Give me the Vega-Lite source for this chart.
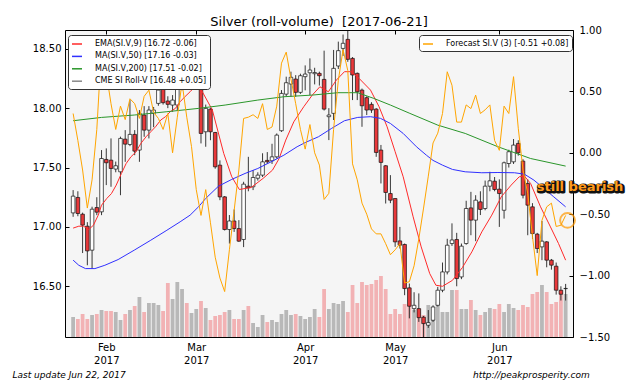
{
  "$schema": "https://vega.github.io/schema/vega-lite/v6.json",
  "width": 508,
  "height": 307,
  "autosize": {"type": "none"},
  "padding": {"left": 65, "top": 30, "right": 67, "bottom": 47},
  "background": "white",
  "title": {"text": "Silver (roll-volume) \u00a0[2017-06-21]", "fontSize": 13, "font": "DejaVu Sans", "fontWeight": "normal", "offset": -4, "color": "black"},
  "config": {
    "view": {"fill": "#f5f5f5", "stroke": "black", "strokeWidth": 1},
    "axis": {"grid": false, "domain": false, "tickColor": "black", "tickSize": 4, "offset": -4, "labelFont": "DejaVu Sans", "labelFontSize": 10, "labelColor": "black"},
    "legend": {"labelFont": "DejaVu Sans", "labelFontSize": 8, "labelColor": "black", "symbolType": "stroke", "symbolStrokeWidth": 1.5, "symbolSize": 100, "fillColor": "white", "strokeColor": "#333", "padding": 3, "cornerRadius": 3, "rowPadding": 2.4, "labelOffset": 12, "orient": "none", "direction": "vertical"}
  },
  "datasets": {
    "candles": [
      {"i":0,"o":17.118,"h":17.31,"l":17.085,"c":17.259,"v":20},
      {"i":1,"o":17.248,"h":17.30,"l":17.09,"c":17.113,"v":18},
      {"i":2,"o":17.107,"h":17.12,"l":16.78,"c":17.015,"v":23},
      {"i":3,"o":17.006,"h":17.04,"l":16.677,"c":16.798,"v":18},
      {"i":4,"o":16.804,"h":17.17,"l":16.649,"c":17.149,"v":22},
      {"i":5,"o":17.163,"h":17.25,"l":17.099,"c":17.124,"v":23},
      {"i":6,"o":17.127,"h":17.647,"l":17.099,"c":17.576,"v":27},
      {"i":7,"o":17.568,"h":17.661,"l":17.352,"c":17.54,"v":26},
      {"i":8,"o":17.562,"h":17.745,"l":17.338,"c":17.492,"v":26},
      {"i":9,"o":17.487,"h":17.55,"l":17.46,"c":17.515,"v":25},
      {"i":10,"o":17.464,"h":17.76,"l":17.267,"c":17.745,"v":17},
      {"i":11,"o":17.739,"h":17.815,"l":17.548,"c":17.697,"v":23},
      {"i":12,"o":17.694,"h":18.068,"l":17.68,"c":17.779,"v":27},
      {"i":13,"o":17.779,"h":17.815,"l":17.604,"c":17.638,"v":31},
      {"i":14,"o":17.647,"h":17.984,"l":17.548,"c":17.956,"v":40},
      {"i":15,"o":17.942,"h":18.017,"l":17.759,"c":17.815,"v":25},
      {"i":16,"o":17.815,"h":18.017,"l":17.745,"c":17.984,"v":34},
      {"i":17,"o":17.956,"h":18.01,"l":17.84,"c":17.984,"v":34},
      {"i":18,"o":18.04,"h":18.2,"l":18.02,"c":18.152,"v":32},
      {"i":19,"o":18.166,"h":18.18,"l":18.03,"c":18.046,"v":26},
      {"i":20,"o":18.06,"h":18.1,"l":18.0,"c":18.032,"v":54},
      {"i":21,"o":18.026,"h":18.11,"l":17.97,"c":18.068,"v":38},
      {"i":22,"o":18.026,"h":18.265,"l":17.98,"c":18.208,"v":55},
      {"i":23,"o":18.2,"h":18.33,"l":18.15,"c":18.3,"v":48},
      {"i":24,"o":18.3,"h":18.38,"l":18.2,"c":18.25,"v":34},
      {"i":25,"o":18.25,"h":18.4,"l":18.22,"c":18.35,"v":24},
      {"i":26,"o":18.22,"h":18.35,"l":18.18,"c":18.3,"v":28},
      {"i":27,"o":18.195,"h":18.22,"l":17.703,"c":17.787,"v":36},
      {"i":28,"o":17.801,"h":18.03,"l":17.675,"c":17.998,"v":29},
      {"i":29,"o":17.992,"h":18.0,"l":17.73,"c":17.801,"v":17},
      {"i":30,"o":17.795,"h":17.8,"l":17.49,"c":17.506,"v":21},
      {"i":31,"o":17.52,"h":17.56,"l":17.225,"c":17.253,"v":22},
      {"i":32,"o":17.253,"h":17.26,"l":16.97,"c":16.978,"v":25},
      {"i":33,"o":16.978,"h":17.1,"l":16.86,"c":17.05,"v":27},
      {"i":34,"o":17.05,"h":17.147,"l":16.958,"c":16.986,"v":18},
      {"i":35,"o":16.986,"h":17.057,"l":16.874,"c":16.88,"v":18},
      {"i":36,"o":16.894,"h":17.38,"l":16.83,"c":17.36,"v":27},
      {"i":37,"o":17.343,"h":17.59,"l":17.30,"c":17.33,"v":31},
      {"i":38,"o":17.338,"h":17.478,"l":17.31,"c":17.416,"v":14},
      {"i":39,"o":17.41,"h":17.46,"l":17.39,"c":17.436,"v":10},
      {"i":40,"o":17.436,"h":17.62,"l":17.42,"c":17.548,"v":22},
      {"i":41,"o":17.56,"h":17.63,"l":17.53,"c":17.548,"v":15},
      {"i":42,"o":17.557,"h":17.70,"l":17.53,"c":17.59,"v":17},
      {"i":43,"o":17.59,"h":17.787,"l":17.576,"c":17.773,"v":15},
      {"i":44,"o":17.81,"h":18.152,"l":17.8,"c":18.124,"v":23},
      {"i":45,"o":18.118,"h":18.265,"l":18.1,"c":18.214,"v":27},
      {"i":46,"o":18.203,"h":18.307,"l":18.096,"c":18.26,"v":22},
      {"i":47,"o":18.245,"h":18.278,"l":18.096,"c":18.133,"v":23},
      {"i":48,"o":18.133,"h":18.29,"l":18.12,"c":18.273,"v":21},
      {"i":49,"o":18.265,"h":18.36,"l":18.15,"c":18.287,"v":18},
      {"i":50,"o":18.298,"h":18.419,"l":18.11,"c":18.321,"v":20},
      {"i":51,"o":18.29,"h":18.34,"l":18.2,"c":18.30,"v":28},
      {"i":52,"o":18.293,"h":18.307,"l":18.19,"c":18.273,"v":20},
      {"i":53,"o":18.242,"h":18.484,"l":17.98,"c":17.992,"v":48},
      {"i":54,"o":17.928,"h":18.0,"l":17.731,"c":17.942,"v":28},
      {"i":55,"o":17.956,"h":18.49,"l":17.9,"c":18.335,"v":34},
      {"i":56,"o":18.355,"h":18.56,"l":18.33,"c":18.484,"v":33},
      {"i":57,"o":18.503,"h":18.62,"l":18.44,"c":18.546,"v":36},
      {"i":58,"o":18.579,"h":18.65,"l":18.39,"c":18.411,"v":25},
      {"i":59,"o":18.419,"h":18.43,"l":18.068,"c":18.279,"v":52},
      {"i":60,"o":18.293,"h":18.3,"l":18.068,"c":18.138,"v":34},
      {"i":61,"o":18.152,"h":18.165,"l":17.843,"c":18.02,"v":55},
      {"i":62,"o":18.088,"h":18.1,"l":17.942,"c":17.984,"v":52},
      {"i":63,"o":18.032,"h":18.05,"l":17.96,"c":17.984,"v":53},
      {"i":64,"o":17.992,"h":18.0,"l":17.59,"c":17.627,"v":57},
      {"i":65,"o":17.647,"h":17.69,"l":17.366,"c":17.543,"v":61},
      {"i":66,"o":17.515,"h":17.52,"l":17.197,"c":17.29,"v":48},
      {"i":67,"o":17.281,"h":17.436,"l":17.2,"c":17.225,"v":23},
      {"i":68,"o":17.239,"h":17.24,"l":16.832,"c":16.874,"v":28},
      {"i":69,"o":16.882,"h":17.0,"l":16.818,"c":16.846,"v":23},
      {"i":70,"o":16.852,"h":16.86,"l":16.425,"c":16.481,"v":33},
      {"i":71,"o":16.487,"h":16.523,"l":16.23,"c":16.332,"v":32},
      {"i":72,"o":16.312,"h":16.45,"l":16.28,"c":16.34,"v":27},
      {"i":73,"o":16.312,"h":16.44,"l":16.2,"c":16.236,"v":25},
      {"i":74,"o":16.24,"h":16.25,"l":16.0,"c":16.186,"v":22},
      {"i":75,"o":16.172,"h":16.3,"l":16.15,"c":16.194,"v":32},
      {"i":76,"o":16.214,"h":16.34,"l":16.2,"c":16.326,"v":30},
      {"i":77,"o":16.34,"h":16.495,"l":16.33,"c":16.467,"v":35},
      {"i":78,"o":16.467,"h":16.7,"l":16.45,"c":16.621,"v":25},
      {"i":79,"o":16.621,"h":16.9,"l":16.6,"c":16.846,"v":25},
      {"i":80,"o":16.86,"h":17.03,"l":16.84,"c":16.89,"v":47},
      {"i":81,"o":16.894,"h":16.95,"l":16.5,"c":16.565,"v":47},
      {"i":82,"o":16.579,"h":16.86,"l":16.56,"c":16.838,"v":28},
      {"i":83,"o":16.86,"h":17.22,"l":16.85,"c":17.155,"v":28},
      {"i":84,"o":17.16,"h":17.295,"l":16.93,"c":17.057,"v":37},
      {"i":85,"o":17.057,"h":17.267,"l":16.88,"c":17.225,"v":27},
      {"i":86,"o":17.211,"h":17.3,"l":17.1,"c":17.147,"v":22},
      {"i":87,"o":17.155,"h":17.39,"l":17.14,"c":17.343,"v":25},
      {"i":88,"o":17.343,"h":17.464,"l":17.3,"c":17.388,"v":29},
      {"i":89,"o":17.385,"h":17.42,"l":17.3,"c":17.315,"v":28},
      {"i":90,"o":17.318,"h":17.4,"l":17.0,"c":17.281,"v":33},
      {"i":91,"o":17.14,"h":17.55,"l":17.07,"c":17.54,"v":25},
      {"i":92,"o":17.534,"h":17.65,"l":17.5,"c":17.633,"v":33},
      {"i":93,"o":17.548,"h":17.74,"l":17.53,"c":17.689,"v":29},
      {"i":94,"o":17.703,"h":17.73,"l":17.6,"c":17.624,"v":27},
      {"i":95,"o":17.554,"h":17.57,"l":17.24,"c":17.267,"v":32},
      {"i":96,"o":17.366,"h":17.4,"l":16.93,"c":17.183,"v":30},
      {"i":97,"o":17.169,"h":17.2,"l":16.9,"c":16.944,"v":43},
      {"i":98,"o":16.939,"h":16.95,"l":16.78,"c":16.818,"v":45},
      {"i":99,"o":16.832,"h":17.05,"l":16.72,"c":16.88,"v":52},
      {"i":100,"o":16.874,"h":16.88,"l":16.66,"c":16.72,"v":45},
      {"i":101,"o":16.72,"h":16.73,"l":16.64,"c":16.678,"v":33},
      {"i":102,"o":16.669,"h":16.7,"l":16.43,"c":16.467,"v":35},
      {"i":103,"o":16.467,"h":16.5,"l":16.38,"c":16.433,"v":45},
      {"i":104,"o":16.48,"h":16.52,"l":16.38,"c":16.482,"v":43}
    ],
    "lines": [
      {"s":"ema","i":0,"v":16.99},{"s":"ema","i":1.2,"v":17.006},{"s":"ema","i":2.2,"v":17.006},{"s":"ema","i":3.3,"v":16.978},{"s":"ema","i":4.3,"v":17.015},{"s":"ema","i":5.3,"v":17.099},{"s":"ema","i":6,"v":17.183},{"s":"ema","i":7.1,"v":17.239},{"s":"ema","i":8.1,"v":17.281},{"s":"ema","i":9.1,"v":17.352},{"s":"ema","i":10.2,"v":17.45},{"s":"ema","i":11.2,"v":17.534},{"s":"ema","i":12.2,"v":17.59},{"s":"ema","i":13.3,"v":17.633},{"s":"ema","i":14.3,"v":17.703},{"s":"ema","i":15.4,"v":17.759},{"s":"ema","i":16.4,"v":17.801},{"s":"ema","i":17.4,"v":17.843},{"s":"ema","i":18.5,"v":17.9},{"s":"ema","i":19.5,"v":17.928},{"s":"ema","i":20.5,"v":17.97},{"s":"ema","i":21.6,"v":17.998},{"s":"ema","i":22.6,"v":18.054},{"s":"ema","i":23.6,"v":18.096},{"s":"ema","i":24.7,"v":18.138},{"s":"ema","i":25.7,"v":18.18},{"s":"ema","i":26.9,"v":18.166},{"s":"ema","i":29.4,"v":17.984},{"s":"ema","i":31.8,"v":17.619},{"s":"ema","i":33.5,"v":17.422},{"s":"ema","i":35.1,"v":17.315},{"s":"ema","i":37.6,"v":17.332},{"s":"ema","i":40.1,"v":17.408},{"s":"ema","i":42.1,"v":17.478},{"s":"ema","i":43.5,"v":17.576},{"s":"ema","i":44.9,"v":17.731},{"s":"ema","i":46.6,"v":17.885},{"s":"ema","i":48.7,"v":18.012},{"s":"ema","i":50.5,"v":18.11},{"s":"ema","i":52.1,"v":18.18},{"s":"ema","i":53.9,"v":18.138},{"s":"ema","i":55.6,"v":18.237},{"s":"ema","i":57.3,"v":18.307},{"s":"ema","i":58.7,"v":18.307},{"s":"ema","i":60.4,"v":18.25},{"s":"ema","i":62.8,"v":18.152},{"s":"ema","i":64.6,"v":18.012},{"s":"ema","i":66.3,"v":17.843},{"s":"ema","i":68,"v":17.633},{"s":"ema","i":69.7,"v":17.422},{"s":"ema","i":71.8,"v":17.085},{"s":"ema","i":73.5,"v":16.832},{"s":"ema","i":75.3,"v":16.607},{"s":"ema","i":76.6,"v":16.509},{"s":"ema","i":78,"v":16.5},{"s":"ema","i":80.1,"v":16.55},{"s":"ema","i":82.2,"v":16.658},{"s":"ema","i":84.2,"v":16.79},{"s":"ema","i":86.3,"v":16.958},{"s":"ema","i":88.4,"v":17.099},{"s":"ema","i":90.4,"v":17.253},{"s":"ema","i":92.5,"v":17.352},{"s":"ema","i":94.2,"v":17.422},{"s":"ema","i":95.3,"v":17.428},{"s":"ema","i":96.6,"v":17.366},{"s":"ema","i":98.7,"v":17.169},{"s":"ema","i":100.8,"v":17.0},{"s":"ema","i":102.5,"v":16.86},{"s":"ema","i":104,"v":16.72},
      {"s":"ma50","i":0,"v":16.72},{"s":"ma50","i":1.2,"v":16.677},{"s":"ma50","i":2.6,"v":16.649},{"s":"ma50","i":4.6,"v":16.649},{"s":"ma50","i":6.7,"v":16.677},{"s":"ma50","i":9.5,"v":16.725},{"s":"ma50","i":12.9,"v":16.804},{"s":"ma50","i":16.4,"v":16.888},{"s":"ma50","i":19.8,"v":16.972},{"s":"ma50","i":22.6,"v":17.043},{"s":"ma50","i":24.7,"v":17.099},{"s":"ma50","i":26.5,"v":17.17},{"s":"ma50","i":28,"v":17.24},{"s":"ma50","i":30.7,"v":17.343},{"s":"ma50","i":33.5,"v":17.4},{"s":"ma50","i":36.3,"v":17.45},{"s":"ma50","i":39,"v":17.492},{"s":"ma50","i":41.8,"v":17.548},{"s":"ma50","i":44.5,"v":17.604},{"s":"ma50","i":47.3,"v":17.675},{"s":"ma50","i":49,"v":17.71},{"s":"ma50","i":51.8,"v":17.759},{"s":"ma50","i":54.6,"v":17.83},{"s":"ma50","i":57.3,"v":17.894},{"s":"ma50","i":60.1,"v":17.922},{"s":"ma50","i":62.8,"v":17.928},{"s":"ma50","i":64.9,"v":17.914},{"s":"ma50","i":67,"v":17.871},{"s":"ma50","i":69.7,"v":17.787},{"s":"ma50","i":72.5,"v":17.675},{"s":"ma50","i":74.6,"v":17.604},{"s":"ma50","i":76,"v":17.56},{"s":"ma50","i":78,"v":17.52},{"s":"ma50","i":80.1,"v":17.484},{"s":"ma50","i":82.8,"v":17.464},{"s":"ma50","i":86.3,"v":17.456},{"s":"ma50","i":89.7,"v":17.458},{"s":"ma50","i":93.2,"v":17.456},{"s":"ma50","i":95.3,"v":17.444},{"s":"ma50","i":97.3,"v":17.394},{"s":"ma50","i":99.4,"v":17.324},{"s":"ma50","i":101.5,"v":17.253},{"s":"ma50","i":104,"v":17.169},
      {"s":"ma200","i":0,"v":17.894},{"s":"ma200","i":6,"v":17.922},{"s":"ma200","i":12.9,"v":17.942},{"s":"ma200","i":19.8,"v":17.97},{"s":"ma200","i":26.5,"v":17.998},{"s":"ma200","i":32.1,"v":18.026},{"s":"ma200","i":39,"v":18.068},{"s":"ma200","i":44.5,"v":18.096},{"s":"ma200","i":50.5,"v":18.11},{"s":"ma200","i":55.9,"v":18.13},{"s":"ma200","i":60.1,"v":18.13},{"s":"ma200","i":63.5,"v":18.082},{"s":"ma200","i":67,"v":18.026},{"s":"ma200","i":71.1,"v":17.956},{"s":"ma200","i":77,"v":17.857},{"s":"ma200","i":82.8,"v":17.787},{"s":"ma200","i":89.7,"v":17.675},{"s":"ma200","i":96.6,"v":17.576},{"s":"ma200","i":104,"v":17.512}
    ],
    "forecast": [
      {"i":0,"r":0.32},{"i":1,"r":0.10},{"i":2,"r":-0.14},{"i":3,"r":-0.45},{"i":4,"r":-0.22},{"i":5,"r":0.19},{"i":6,"r":0.86},{"i":7,"r":0.65},{"i":8,"r":0.40},{"i":9,"r":0.19},{"i":10,"r":0.38},{"i":11,"r":0.27},{"i":12,"r":0.44},{"i":13,"r":0.40},{"i":14,"r":0.28},{"i":15,"r":0.46},{"i":16,"r":0.51},{"i":17,"r":0.33},{"i":18,"r":0.28},{"i":19,"r":0.19},{"i":20,"r":0.32},{"i":21,"r":0.0},{"i":22,"r":0.29},{"i":23,"r":0.57},{"i":24,"r":0.29},{"i":25,"r":0.05},{"i":26,"r":-0.3},{"i":27,"r":-0.51},{"i":28,"r":-0.30},{"i":29,"r":-0.57},{"i":30,"r":-0.85},{"i":31,"r":-1.02},{"i":32,"r":-1.13},{"i":33,"r":-0.79},{"i":34,"r":-0.47},{"i":35,"r":-0.14},{"i":36,"r":0.28},{"i":37,"r":0.29},{"i":38,"r":0.31},{"i":39,"r":0.28},{"i":40,"r":0.40},{"i":41,"r":0.19},{"i":42,"r":0.21},{"i":43,"r":0.38},{"i":44,"r":0.73},{"i":45,"r":0.82},{"i":46,"r":0.6},{"i":47,"r":0.40},{"i":48,"r":0.19},{"i":49,"r":0.03},{"i":50,"r":0.23},{"i":51,"r":0.0},{"i":52,"r":-0.10},{"i":53,"r":-0.38},{"i":54,"r":-0.33},{"i":55,"r":0.19},{"i":56,"r":0.59},{"i":57,"r":0.84},{"i":58,"r":0.67},{"i":59,"r":-0.09},{"i":60,"r":-0.22},{"i":61,"r":-0.41},{"i":62,"r":-0.50},{"i":63,"r":-0.62},{"i":64,"r":-0.66},{"i":65,"r":-0.66},{"i":66,"r":-0.74},{"i":67,"r":-0.83},{"i":68,"r":-0.79},{"i":69,"r":-0.74},{"i":70,"r":-1.06},{"i":71,"r":-1.05},{"i":72,"r":-0.92},{"i":73,"r":-0.7},{"i":74,"r":-0.45},{"i":75,"r":-0.19},{"i":76,"r":0.08},{"i":77,"r":0.16},{"i":78,"r":0.32},{"i":79,"r":0.66},{"i":80,"r":0.55},{"i":81,"r":0.25},{"i":82,"r":0.25},{"i":83,"r":0.39},{"i":84,"r":0.36},{"i":85,"r":0.47},{"i":86,"r":0.32},{"i":87,"r":0.35},{"i":88,"r":0.39},{"i":89,"r":0.10},{"i":90,"r":0.02},{"i":91,"r":0.38},{"i":92,"r":0.32},{"i":93,"r":0.62},{"i":94,"r":0.2},{"i":95,"r":-0.14},{"i":96,"r":-0.33},{"i":97,"r":-0.68},{"i":98,"r":-1.0},{"i":99,"r":-0.55},{"i":100,"r":-0.44},{"i":101,"r":-0.41},{"i":102,"r":-0.60},{"i":103,"r":-0.59},{"i":104,"r":-0.51}
    ]
  },
  "layer": [
    {
      "data": {"name": "candles"},
      "mark": {"type": "bar", "size": 3.8, "clip": true},
      "encoding": {
        "x": {"field": "i", "type": "quantitative", "scale": {"domain": [-0.66, 104.5], "nice": false, "zero": false},
              "axis": {"title": null, "values": [7, 26, 49, 68, 90], "labelExpr": "datum.value==7?['Feb','2017']:datum.value==26?['Mar','2017']:datum.value==49?['Apr','2017']:datum.value==68?['May','2017']:['Jun','2017']", "labelPadding": 5, "labelLineHeight": 13, "labelBaseline": "top"}},
        "y": {"field": "v", "type": "quantitative", "scale": {"domain": [0, 307], "nice": false}, "axis": null},
        "fill": {"condition": {"test": "datum.c >= datum.o", "value": "#b8b8b8"}, "value": "#f2b2b4"}
      }
    },
    {
      "layer": [
        {
          "data": {"name": "candles"},
          "mark": {"type": "rule", "color": "#222", "strokeWidth": 0.9, "clip": true},
          "encoding": {
            "x": {"field": "i", "type": "quantitative", "scale": {"domain": [-0.66, 104.5], "nice": false, "zero": false},
                  "axis": {"title": null, "orient": "top", "values": [7, 26, 49, 68, 90], "labels": false}},
            "y": {"field": "l", "type": "quantitative", "scale": {"domain": [16.073, 18.658], "nice": false, "zero": false},
                  "axis": {"title": null, "orient": "left", "values": [16.5, 17, 17.5, 18, 18.5], "format": ".2f", "labelPadding": 4}},
            "y2": {"field": "h"}
          }
        },
        {
          "data": {"name": "candles"},
          "mark": {"type": "bar", "size": 3.6, "stroke": "#111", "strokeWidth": 0.7, "clip": true},
          "encoding": {
            "x": {"field": "i", "type": "quantitative", "scale": {"domain": [-0.66, 104.5], "nice": false, "zero": false}},
            "y": {"field": "o", "type": "quantitative", "scale": {"domain": [16.073, 18.658], "nice": false, "zero": false}},
            "y2": {"field": "c"},
            "fill": {"condition": {"test": "datum.c >= datum.o", "value": "white"}, "value": "#e8383a"}
          }
        },
        {
          "data": {"name": "lines"},
          "mark": {"type": "line", "strokeWidth": 1, "clip": true},
          "encoding": {
            "x": {"field": "i", "type": "quantitative", "scale": {"domain": [-0.66, 104.5], "nice": false, "zero": false}},
            "y": {"field": "v", "type": "quantitative", "scale": {"domain": [16.073, 18.658], "nice": false, "zero": false}},
            "color": {"field": "s", "type": "nominal",
                      "scale": {"domain": ["ema", "ma50", "ma200", "cme"], "range": ["#ff2a2a", "#3030ff", "#2a962a", "#888888"]},
                      "legend": {"title": null, "legendX": 3, "legendY": 5, "labelExpr": "datum.value=='ema'?'EMA(SI.V,9) [16.72 -0.06]':datum.value=='ma50'?'MA(SI.V,50) [17.16 -0.03]':datum.value=='ma200'?'MA(SI.V,200) [17.51 -0.02]':'CME SI Roll-V [16.48 +0.05]'"}}
          }
        },
        {
          "data": {"values": [{"i": -12.8, "p": 15.75, "t": "Last update Jun 22, 2017"}]},
          "mark": {"type": "text", "align": "left", "baseline": "middle", "font": "DejaVu Sans", "fontSize": 9, "fontStyle": "italic", "color": "black"},
          "encoding": {
            "x": {"field": "i", "type": "quantitative", "scale": {"domain": [-0.66, 104.5], "nice": false, "zero": false}},
            "y": {"field": "p", "type": "quantitative", "scale": {"domain": [16.073, 18.658], "nice": false, "zero": false}},
            "text": {"field": "t"}
          }
        },
        {
          "data": {"values": [{"i": 109.1, "p": 15.75, "t": "http://peakprosperity.com"}]},
          "mark": {"type": "text", "align": "right", "baseline": "middle", "font": "DejaVu Sans", "fontSize": 9, "fontStyle": "italic", "color": "black"},
          "encoding": {
            "x": {"field": "i", "type": "quantitative", "scale": {"domain": [-0.66, 104.5], "nice": false, "zero": false}},
            "y": {"field": "p", "type": "quantitative", "scale": {"domain": [16.073, 18.658], "nice": false, "zero": false}},
            "text": {"field": "t"}
          }
        }
      ]
    },
    {
      "layer": [
        {
          "data": {"name": "forecast"},
          "transform": [{"calculate": "'fc'", "as": "s"}],
          "mark": {"type": "line", "strokeWidth": 1, "clip": true},
          "encoding": {
            "x": {"field": "i", "type": "quantitative", "scale": {"domain": [-0.66, 104.5], "nice": false, "zero": false}, "axis": null},
            "y": {"field": "r", "type": "quantitative", "scale": {"domain": [-1.5, 1.0], "nice": false, "zero": false},
                  "axis": {"title": null, "orient": "right", "values": [-1.5, -1, -0.5, 0, 0.5, 1], "format": ".2f", "labelPadding": 6}},
            "color": {"field": "s", "type": "nominal", "scale": {"domain": ["fc"], "range": ["#ffa500"]},
                      "legend": {"title": null, "legendX": 354, "legendY": 5, "labelExpr": "'Forecast SI.V (3) [-0.51 +0.08]'"}}
          }
        },
        {
          "data": {"values": [{"i": 104.4, "r": -0.55}]},
          "mark": {"type": "point", "filled": false, "stroke": "#ff9900", "strokeWidth": 2, "size": 220, "shape": "circle"},
          "encoding": {
            "x": {"field": "i", "type": "quantitative", "scale": {"domain": [-0.66, 104.5], "nice": false, "zero": false}, "axis": null},
            "y": {"field": "r", "type": "quantitative", "scale": {"domain": [-1.5, 1.0], "nice": false, "zero": false}}
          }
        },
        {
          "data": {"values": [{"i": 97.9, "r": -0.278, "t": "still bearish"}]},
          "mark": {"type": "text", "align": "left", "baseline": "middle", "font": "DejaVu Sans", "fontSize": 13, "fontWeight": "bold", "fill": "#111", "stroke": "#111", "strokeWidth": 3, "strokeJoin": "round", "dx": 1, "dy": 1},
          "encoding": {
            "x": {"field": "i", "type": "quantitative", "scale": {"domain": [-0.66, 104.5], "nice": false, "zero": false}, "axis": null},
            "y": {"field": "r", "type": "quantitative", "scale": {"domain": [-1.5, 1.0], "nice": false, "zero": false}},
            "text": {"field": "t"}
          }
        },
        {
          "data": {"values": [{"i": 97.9, "r": -0.278, "t": "still bearish"}]},
          "mark": {"type": "text", "align": "left", "baseline": "middle", "font": "DejaVu Sans", "fontSize": 13, "fontWeight": "bold", "fill": "#ff9a1a"},
          "encoding": {
            "x": {"field": "i", "type": "quantitative", "scale": {"domain": [-0.66, 104.5], "nice": false, "zero": false}, "axis": null},
            "y": {"field": "r", "type": "quantitative", "scale": {"domain": [-1.5, 1.0], "nice": false, "zero": false}},
            "text": {"field": "t"}
          }
        }
      ]
    }
  ],
  "resolve": {"scale": {"y": "independent", "color": "independent"}, "axis": {"x": "independent"}}
}
